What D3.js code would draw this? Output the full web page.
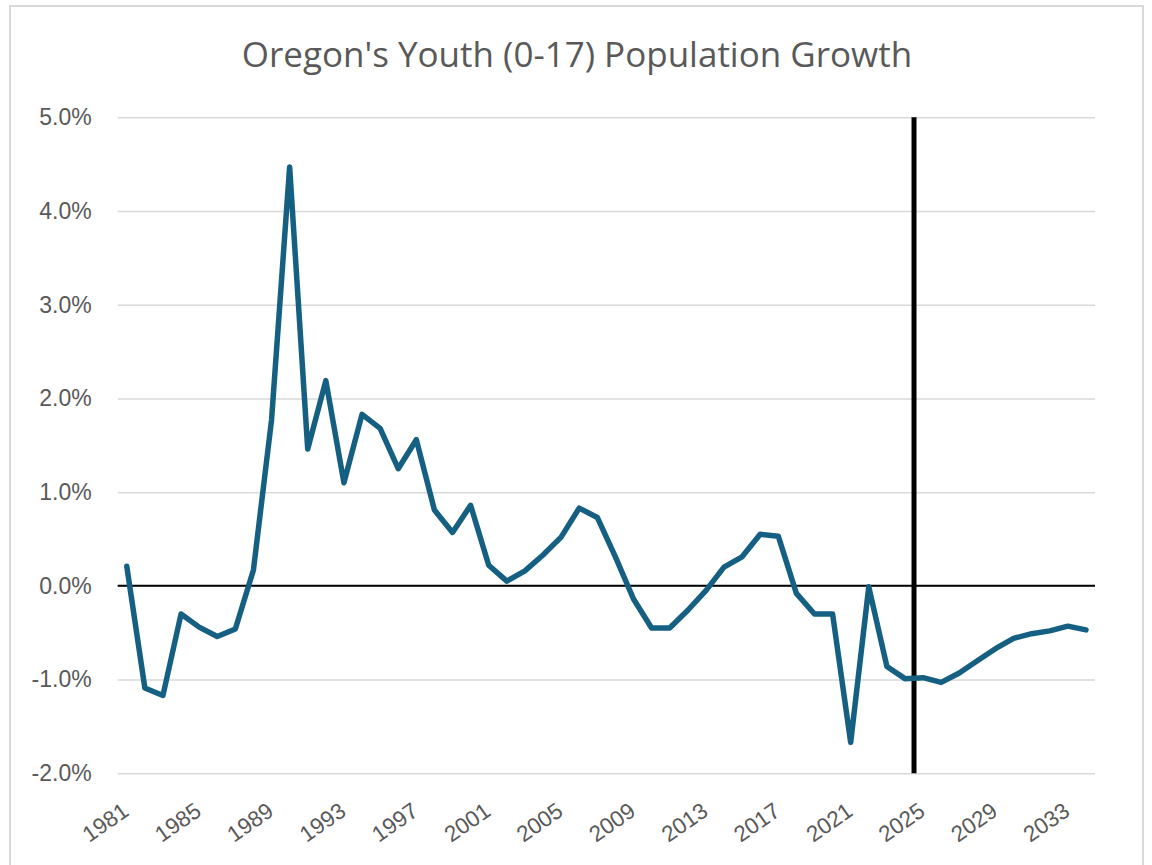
<!DOCTYPE html>
<html>
<head>
<meta charset="utf-8">
<script src="https://cdn.jsdelivr.net/npm/d3@7"></script>
<style>
  html, body { margin: 0; padding: 0; background: #fff; }
  svg { display: block; }
</style>
</head>
<body>
<svg id="chart" width="1152" height="865"></svg>
<script>
// ---- Data ----
const titleText = "Oregon's Youth (0-17) Population Growth";
const years = d3.range(1981, 2035);
const growth = [
  0.21, -1.09, -1.17, -0.30, -0.44, -0.54, -0.46, 0.17, 1.77, 4.47,
  1.46, 2.19, 1.10, 1.83, 1.68, 1.25, 1.56, 0.81, 0.57, 0.86,
  0.22, 0.05, 0.16, 0.33, 0.52, 0.83, 0.73, 0.31, -0.14, -0.45,
  -0.45, -0.26, -0.05, 0.20, 0.31, 0.55, 0.53, -0.08, -0.30, -0.30,
  -1.67, -0.01, -0.86, -0.99, -0.98, -1.03, -0.93, -0.80, -0.67, -0.56,
  -0.51, -0.48, -0.43, -0.47
];
const yTicks = [-2, -1, 0, 1, 2, 3, 4, 5];
const xTickLabels = [1981, 1985, 1989, 1993, 1997, 2001, 2005, 2009, 2013, 2017, 2021, 2025, 2029, 2033];
const dividerAfterYear = 2024; // vertical line between 2024 and 2025

// ---- Layout ----
const svg = d3.select("#chart");
const plot = { left: 117.7, right: 1095, top: 117.3, bottom: 773.3 };

// frame
svg.append("rect")
  .attr("x", 10).attr("y", 6)
  .attr("width", 1133).attr("height", 880)
  .attr("fill", "#fff")
  .attr("stroke", "#d9d9d9").attr("stroke-width", 2);

const x = d3.scaleBand().domain(years).range([plot.left, plot.right]).paddingInner(0).paddingOuter(0);
const xc = yr => x(yr) + x.bandwidth() / 2;
const y = d3.scaleLinear().domain([-2, 5]).range([plot.bottom, plot.top]);

// title
svg.append("text")
  .attr("x", 577).attr("y", 67)
  .attr("text-anchor", "middle")
  .attr("font-family", "'Open Sans', 'Liberation Sans', sans-serif")
  .attr("font-size", 35)
  .attr("fill", "#595959")
  .text(titleText);

// gridlines + y labels
const yAxis = d3.axisLeft(y).tickValues(yTicks)
  .tickSize(-(plot.right - plot.left)).tickPadding(26)
  .tickFormat(d => d.toFixed(1) + "%");
const gy = svg.append("g").attr("transform", `translate(${plot.left},0)`).call(yAxis);
gy.select(".domain").remove();
gy.selectAll(".tick line").attr("stroke", "#d9d9d9").attr("stroke-width", 1.5);
gy.selectAll(".tick text")
  .attr("font-family", "'Liberation Sans', Arial, sans-serif")
  .attr("font-size", 23)
  .attr("fill", "#595959");

// x axis labels
const xAxis = d3.axisBottom(x).tickValues(xTickLabels).tickSize(0).tickPadding(0);
const gx = svg.append("g").attr("transform", `translate(0,${plot.bottom})`).call(xAxis);
gx.select(".domain").remove();
gx.selectAll(".tick text")
  .attr("font-family", "'Liberation Sans', Arial, sans-serif")
  .attr("font-size", 22.5)
  .attr("fill", "#595959")
  .attr("text-anchor", "end")
  .attr("dy", 0)
  .attr("y", 0)
  .attr("transform", "translate(3.5,41) rotate(-35)");

// zero line
svg.append("line")
  .attr("x1", plot.left).attr("x2", plot.right)
  .attr("y1", y(0)).attr("y2", y(0))
  .attr("stroke", "#000").attr("stroke-width", 2);

// vertical divider
const divX = x(dividerAfterYear) + x.bandwidth();
svg.append("line")
  .attr("x1", divX).attr("x2", divX)
  .attr("y1", y(5)).attr("y2", y(-2))
  .attr("stroke", "#000").attr("stroke-width", 5);

// data line
const line = d3.line().x((d, i) => xc(years[i])).y(d => y(d));
svg.append("path")
  .datum(growth)
  .attr("d", line)
  .attr("fill", "none")
  .attr("stroke", "#156082")
  .attr("stroke-width", 5.5)
  .attr("stroke-linejoin", "round")
  .attr("stroke-linecap", "round");
</script>
</body>
</html>
